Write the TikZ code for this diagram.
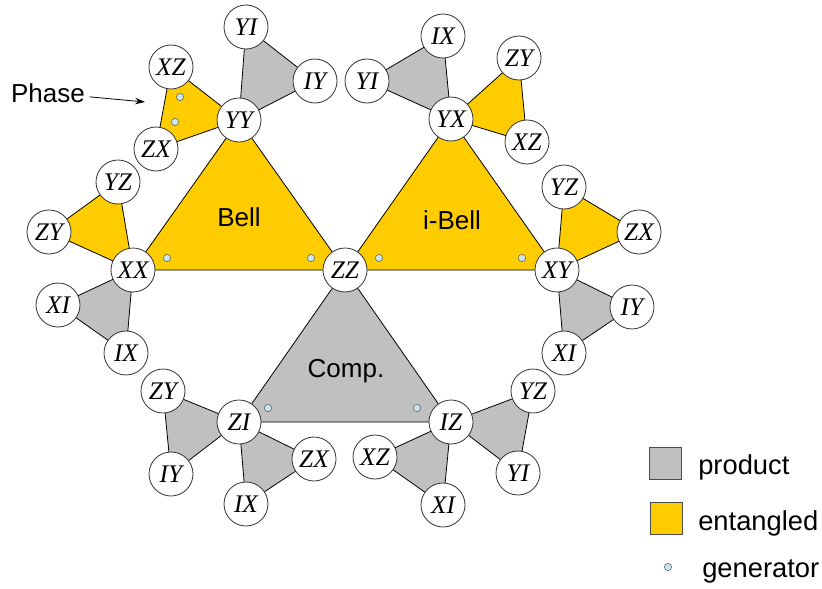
\documentclass[tikz,border=0pt]{standalone}
\usepackage{fontspec}
\setmainfont{Liberation Sans}
\newfontfamily\pauli{Liberation Serif}
\usetikzlibrary{arrows.meta, positioning, backgrounds}
\definecolor{gold}{RGB}{255,204,0}
\definecolor{silver}{RGB}{192,192,192}
\definecolor{genblue}{RGB}{200,232,236}

\begin{document}
\begin{tikzpicture}[
  x=0.75pt, y=-0.75pt,
  >={Stealth[length=2.6mm, width=1.7mm]},
  every node/.style={font=\fontsize{19.5}{22}\selectfont},
  op/.style={circle, draw=black!80, fill=white, line width=0.6pt, minimum size=33pt,
             inner sep=0pt, font=\pauli\itshape\fontsize{19}{19}\selectfont},
  gen/.style={circle, draw=black!65, fill=genblue, line width=0.4pt, minimum size=5.5pt, inner sep=0pt},
  product/.style={fill=silver, draw=black, line width=0.6pt, line join=round},
  entangled/.style={fill=gold, draw=black, line width=0.6pt, line join=round},
  keybox/.style={minimum size=24pt, inner sep=0pt, line width=0.6pt},
  keytext/.style={anchor=base west, inner sep=0pt, font=\fontsize{20.5}{22}\selectfont}
]
\useasboundingbox (0,0) rectangle (822,589);
% hubs of the three big triangles
\node[op] (yy) at (239,120) {YY};
\node[op] (xx) at (133,270) {XX};
\node[op] (zz) at (345,270) {ZZ};
\node[op] (yx) at (451,119) {YX};
\node[op] (xy) at (557,270) {XY};
\node[op] (zi) at (239,422) {ZI};
\node[op] (iz) at (451,422) {IZ};
% leaves
\foreach \nm/\lab/\x/\y in {yy-yi/YI/246/27, yy-iy/IY/315/81, yy-xz/XZ/171/67, yy-zx/ZX/156/149,
    xx-yz/YZ/118/182, xx-zy/ZY/49/232, xx-xi/XI/58/305, xx-ix/IX/126/353,
    yx-ix/IX/443/36, yx-yi/YI/367/81, yx-zy/ZY/519/58, yx-xz/XZ/527/142,
    xy-yz/YZ/564/187, xy-zx/ZX/639/232, xy-iy/IY/632/307, xy-xi/XI/564/353,
    zi-zy/ZY/163/391, zi-iy/IY/171/474, zi-zx/ZX/314/459, zi-ix/IX/246/504,
    iz-yz/YZ/533/391, iz-yi/YI/518/473, iz-xz/XZ/375/457, iz-xi/XI/443/505}
  \node[op] (\nm) at (\x,\y) {\lab};
\begin{scope}[on background layer]
  \draw[entangled] (xx.center) -- (yy.center) -- (zz.center) -- cycle;
  \draw[entangled] (zz.center) -- (yx.center) -- (xy.center) -- cycle;
  \draw[product] (zi.center) -- (zz.center) -- (iz.center) -- cycle;
  \foreach \a/\b/\c/\kind in {yy/yy-yi/yy-iy/product, yy/yy-xz/yy-zx/entangled,
      xx/xx-yz/xx-zy/entangled, xx/xx-xi/xx-ix/product,
      yx/yx-ix/yx-yi/product, yx/yx-zy/yx-xz/entangled,
      xy/xy-yz/xy-zx/entangled, xy/xy-iy/xy-xi/product,
      zi/zi-zy/zi-iy/product, zi/zi-zx/zi-ix/product,
      iz/iz-yz/iz-yi/product, iz/iz-xz/iz-xi/product}
    \draw[\kind] (\a.center) -- (\b.center) -- (\c.center) -- cycle;
\end{scope}
% generators
\foreach \x/\y [count=\i] in {180/97, 175/122, 167/258, 311/258, 379/258, 522/258, 268/408, 417/408}
  \node[gen] (g\i) at (\x,\y) {};
\node (bell) at (239,217) {Bell};
\node (ibell) at (452,220) {i-Bell};
\node (comp) at (346,371) {Comp.};
\node (phase) at (48,93) {Phase};
\coordinate (phasetip) at (145,102);
\draw[->, line width=0.6pt] (phase) -- (phasetip);
% key
\node[keybox, fill=silver, draw=black!70] (keyprod) at (665,463) {};
\node[keybox, fill=gold, draw=black!70] (keyent) at (666,518) {};
\node[gen] (keygen) at (668,567) {};
\node[keytext] (txtprod) at (698,474) {product};
\node[keytext] (txtent) at (698,530) {entangled};
\node[keytext] (txtgen) at (702,577) {generator};
\end{tikzpicture}
\end{document}
